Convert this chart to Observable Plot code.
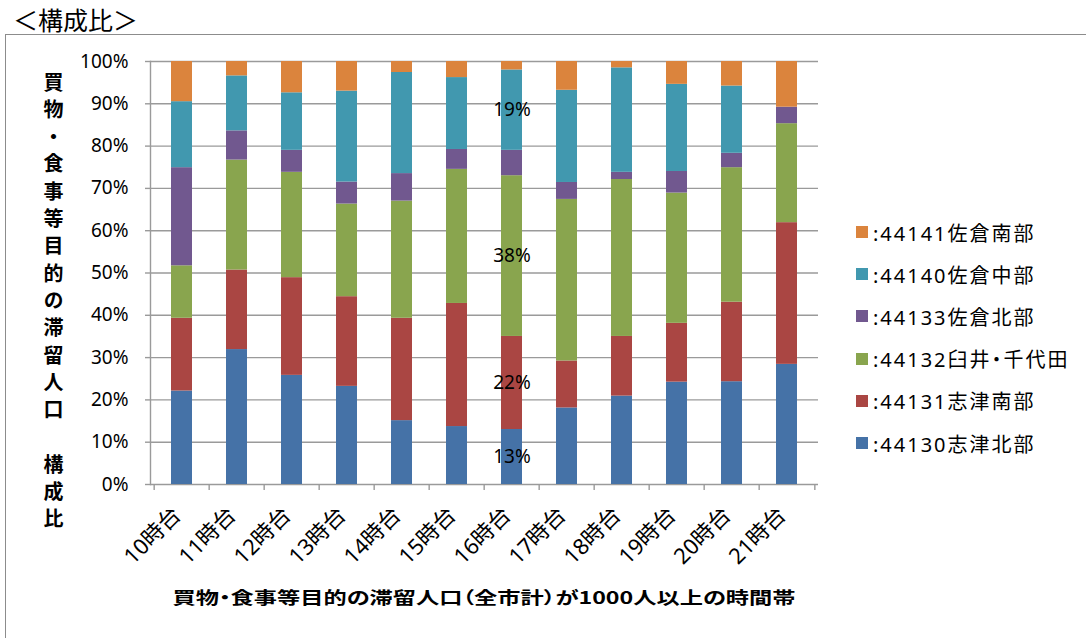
<!DOCTYPE html>
<html lang="ja">
<head>
<meta charset="utf-8">
<script src="https://cdn.jsdelivr.net/npm/d3@7"></script>
<script src="https://cdn.jsdelivr.net/npm/@observablehq/plot@0.6"></script>
<style>
  body { margin: 0; background: #fff; font-family: "Noto Sans", "Noto Sans CJK JP", sans-serif; }
  #wrap { position: relative; width: 1086px; height: 638px; overflow: hidden; background: #fff; }
  #title { position: absolute; left: 13px; top: 1px; font-family: "Noto Sans CJK JP", sans-serif; font-size: 25px; color: #000; }
  #frame { position: absolute; left: 5px; top: 34px; width: 1200px; height: 700px; border: 1.5px solid #8c8c8c; box-sizing: border-box; }
  #chart { position: absolute; left: 0; top: 40px; }
  #ylab { position: absolute; z-index: 2; left: 39px; top: 72px; writing-mode: vertical-rl; font-family: "Noto Sans CJK JP", sans-serif; font-weight: bold; font-size: 20px; letter-spacing: 7.3px; color: #000; }
  #xlab { position: absolute; z-index: 2; left: 484px; top: 596px; white-space: nowrap; font-family: "Noto Sans CJK JP", sans-serif; font-feature-settings: "palt"; font-weight: bold; font-size: 17px; line-height: 1; color: #000; transform-origin: 0 0; }
  #legend { position: absolute; z-index: 2; left: 856px; top: 211px; font-family: "Noto Sans", "Noto Sans CJK JP", sans-serif; font-feature-settings: "palt"; font-size: 20px; letter-spacing: 2px; color: #000; }
  #legend .item { display: flex; align-items: center; height: 42.2px; }
  #legend .sw { width: 12px; height: 12px; margin-right: 5px; }
</style>
</head>
<body>
<div id="wrap">
  <div id="frame"></div>
  <div id="title">＜構成比＞</div>
  <div id="chart"></div>
  <div id="ylab">買物・食事等目的の滞留人口　構成比</div>
  <div id="xlab">買物・食事等目的の滞留人口（全市計）が1000人以上の時間帯</div>
  <div id="legend"></div>
</div>
<script>
// Time bands (x axis)
const times = ["10時台", "11時台", "12時台", "13時台", "14時台", "15時台",
               "16時台", "17時台", "18時台", "19時台", "20時台", "21時台"];

// Areas, stacked from the bottom up
const areaCodes = ["44130", "44131", "44132", "44133", "44140", "44141"];
const areaNames = ["志津北部", "志津南部", "臼井・千代田", "佐倉北部", "佐倉中部", "佐倉南部"];
const areaColors = ["#4572a7", "#aa4643", "#89a54e", "#71588f", "#4198af", "#db843d"];

// Share (%) of each area per time band
const shiduKita   = [22.1, 31.9, 25.8, 23.2, 15.1, 13.7, 13, 18.1, 20.9, 24.2, 24.3, 28.4];
const shiduMinami = [17.2, 18.8, 23.1, 21.2, 24.2, 29.1, 22, 11.1, 14.1, 13.9, 18.8, 33.5];
const usuiChiyoda = [12.4, 26.0, 24.9, 21.9, 27.7, 31.7, 38, 38.2, 37.1, 30.8, 31.8, 23.4];
const sakuraKita  = [23.2,  6.9,  5.2,  5.2,  6.5,  4.7,  6,  4.0,  1.7,  5.1,  3.4,  3.9];
const sakuraNaka  = [15.6, 13.0, 13.6, 21.5, 23.9, 17.0, 19, 21.8, 24.7, 20.6, 15.9,  0.0];
const sakuraMinami= [ 9.5,  3.4,  7.4,  7.0,  2.6,  3.8,  2,  6.8,  1.5,  5.4,  5.8, 10.8];
const seriesValues = [shiduKita, shiduMinami, usuiChiyoda, sakuraKita, sakuraNaka, sakuraMinami];

// Y tick values (%)
const yTicks = [0, 10, 20, 30, 40, 50, 60, 70, 80, 90, 100];

// Segments that carry a value label
const labelTime = "16時台";
const labelCodes = ["44130", "44131", "44132", "44140"];

const seriesKeys = areaCodes.map((c, i) => ":" + c + areaNames[i]);

// Long table: one row per (time, area), in stacking order
const rows = [];
times.forEach((t, ti) => {
  areaCodes.forEach((code, si) => {
    rows.push({time: t, code, series: seriesKeys[si], value: seriesValues[si][ti]});
  });
});

const W = 830, H = 590, ML = 150, MR = 12, MT = 21, MB = 146;
const step = (W - ML - MR) / times.length;
const grey = "#9a9a9a";

const chart = Plot.plot({
  width: W,
  height: H,
  marginLeft: ML,
  marginRight: MR,
  marginTop: MT,
  marginBottom: MB,
  style: {fontFamily: "'Noto Sans', 'Noto Sans CJK JP', sans-serif", color: "#000", background: "transparent"},
  x: {domain: times, paddingInner: 0.61, paddingOuter: 0.305, label: null},
  y: {domain: [0, 100], label: null},
  color: {domain: seriesKeys, range: areaColors},
  marks: [
    Plot.gridY(yTicks, {stroke: grey, strokeOpacity: 1, strokeWidth: 1.4}),
    Plot.frame({anchor: "left", stroke: grey, strokeWidth: 1.4}),
    Plot.axisY(yTicks, {
      tickSize: 5, tickPadding: 17, stroke: grey, strokeWidth: 1.4,
      tickFormat: d => d + "%", fontSize: 19, label: null
    }),
    // tick marks on the band boundaries
    Plot.ruleX(times, {x: d => d, y1: 0, y2: 0, dx: -step / 2, insetBottom: -6, stroke: grey, strokeWidth: 1.4}),
    Plot.ruleX(times.slice(-1), {x: d => d, y1: 0, y2: 0, dx: step / 2, insetBottom: -6, stroke: grey, strokeWidth: 1.4}),
    Plot.axisX({
      tickSize: 0, tickRotate: -45, tickPadding: 27, dx: -5, fontSize: 22, label: null
    }),
    Plot.barY(rows, {x: "time", y: "value", fill: "series", order: null}),
    Plot.text(rows, Plot.stackY({
      x: "time", y: "value", z: "series", order: null,
      text: d => (d.time === labelTime && labelCodes.includes(d.code)) ? Math.round(d.value) + "%" : null,
      fill: "#000", fontSize: 19
    }))
  ]
});
document.getElementById("chart").appendChild(chart);

// Legend, listed top-down in reverse stacking order
const legend = d3.select("#legend");
seriesKeys.slice().reverse().forEach((key, i) => {
  const color = areaColors[areaColors.length - 1 - i];
  const item = legend.append("div").attr("class", "item");
  item.append("div").attr("class", "sw").style("background", color);
  item.append("span").text(key);
});

// Axis title: wide, flat lettering centred under the plot
const xlab = document.getElementById("xlab");
const r = xlab.getBoundingClientRect();
const titleWidth = 623;
const sx = titleWidth / r.width;
xlab.style.transform = `translate(${-titleWidth / 2}px, ${-r.height / 2}px) scale(${sx}, 1)`;
</script>
</body>
</html>
